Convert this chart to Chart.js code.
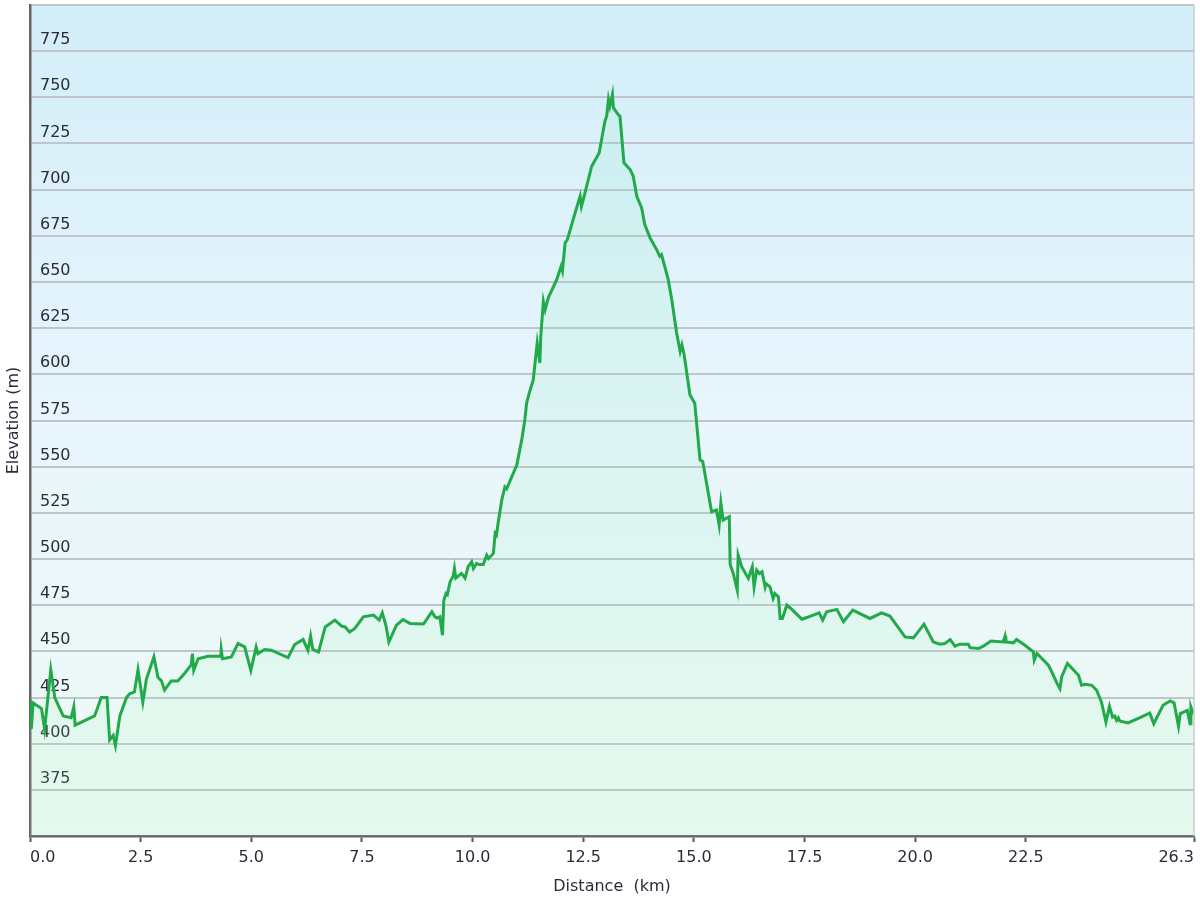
<!DOCTYPE html>
<html>
<head>
<meta charset="utf-8">
<title>Elevation profile</title>
<script src="https://cdn.jsdelivr.net/npm/chart.js@4/dist/chart.umd.min.js"></script>
<style>
  html, body { margin: 0; padding: 0; background: #fff; }
  #wrap { width: 1200px; height: 900px; position: relative; }
</style>
</head>
<body>
<div id="wrap"><canvas id="profile"></canvas></div>
<script>
// Elevation profile — distance (km) vs elevation (m)

const distanceKm = [
  0.00, 0.03, 0.07, 0.26, 0.33, 0.47, 0.56, 0.75, 0.93, 0.99, 1.02, 1.46, 1.61, 1.74, 1.80, 1.88, 1.93,
  2.03, 2.18, 2.25, 2.36, 2.44, 2.55, 2.63, 2.80, 2.89, 2.97, 3.04, 3.19, 3.34, 3.49, 3.64, 3.67, 3.70,
  3.80, 4.02, 4.31, 4.32, 4.35, 4.55, 4.70, 4.85, 4.99, 5.11, 5.15, 5.30, 5.45, 5.83, 5.98, 6.17, 6.28,
  6.34, 6.39, 6.52, 6.67, 6.89, 7.04, 7.12, 7.22, 7.34, 7.53, 7.76, 7.89, 7.96, 8.04, 8.11, 8.28, 8.43,
  8.59, 8.89, 9.08, 9.15, 9.20, 9.26, 9.32, 9.35, 9.40, 9.43, 9.49, 9.56, 9.59, 9.62, 9.75, 9.83, 9.90,
  9.98, 10.02, 10.09, 10.15, 10.24, 10.32, 10.36, 10.47, 10.51, 10.54, 10.58, 10.66, 10.73, 10.77, 11.00,
  11.11, 11.18, 11.22, 11.28, 11.37, 11.46, 11.52, 11.54, 11.60, 11.64, 11.71, 11.90, 12.00, 12.03, 12.09,
  12.14, 12.35, 12.43, 12.46, 12.52, 12.69, 12.86, 12.99, 13.03, 13.07, 13.10, 13.16, 13.18, 13.29, 13.33,
  13.42, 13.56, 13.63, 13.71, 13.82, 13.89, 14.01, 14.16, 14.23, 14.27, 14.42, 14.50, 14.61, 14.69, 14.73,
  14.78, 14.91, 15.02, 15.14, 15.20, 15.40, 15.51, 15.57, 15.61, 15.66, 15.80, 15.82, 15.89, 15.98, 16.00,
  16.08, 16.23, 16.32, 16.36, 16.42, 16.48, 16.54, 16.61, 16.63, 16.72, 16.79, 16.83, 16.91, 16.95, 17.00,
  17.10, 17.19, 17.44, 17.55, 17.83, 17.91, 18.00, 18.23, 18.38, 18.59, 18.98, 19.24, 19.43, 19.77, 19.96,
  20.20, 20.41, 20.56, 20.67, 20.79, 20.90, 21.01, 21.20, 21.24, 21.43, 21.54, 21.71, 21.99, 22.03, 22.05,
  22.22, 22.29, 22.48, 22.67, 22.69, 22.75, 23.01, 23.05, 23.20, 23.27, 23.31, 23.44, 23.69, 23.76, 23.84,
  23.99, 24.10, 24.21, 24.31, 24.39, 24.46, 24.51, 24.55, 24.59, 24.62, 24.81, 25.08, 25.30, 25.39, 25.60,
  25.76, 25.85, 25.95, 25.99, 26.15, 26.21, 26.23, 26.27, 26.30
];

const elevationM = [
  424, 408, 422, 419, 408, 440, 425, 415, 414, 420, 410, 415, 425, 425, 402, 404.5, 399,
  415, 425, 427, 428, 440, 422.5, 435, 447, 436, 434, 429, 434, 434, 438, 442.5, 448.8, 439.7,
  446, 447.3, 447.3, 451, 446, 447, 454.2, 452.4, 439.7, 452.4, 448.8, 451, 450.6, 446.6, 453.7, 456.4, 450.6,
  458.2, 451, 449.7, 463.2, 466.9, 463.6, 463.2, 460.5, 462.4, 468.7, 469.6, 466.9, 470.8, 464.2, 455.1, 464.2, 467.2,
  465.1, 464.8, 471.4, 468.7, 468, 468.7, 458.7, 477.7, 481.3, 480.7, 487.6, 490.7, 494.9, 489.6, 492.2, 489.6, 495.8,
  498.5, 494.9, 497.6, 497, 497, 502.1, 500.3, 503, 513.9, 513, 520, 532, 539, 538, 551,
  564.5, 575.3, 584.3, 589.8, 597, 616.9, 606.1, 620.5, 639.5, 635, 641.4, 651.3, 658.5, 656, 671.1,
  672.9, 690.1, 696.4, 691, 696.4, 712.7, 719.9, 737.1, 739.8, 748.9, 745.3, 751.6, 744.4, 740.7, 739.8,
  714.5, 710.9, 707.3, 696.4, 690.1, 681.1, 673.9, 667.5, 663.9, 664.8, 651.3, 640.5, 622.4, 612.4, 616,
  610.6, 588.9, 584.4, 553.6, 552.8, 525.6, 526.5, 518.4, 530.2, 521.1, 522.9, 497, 492.2, 483.1, 502.1,
  495.8, 489.5, 495.8, 484.9, 494, 492.2, 493.1, 484.9, 486.7, 484.9, 478.6, 481.3, 479.5, 467.8, 467.8,
  475, 473.2, 467.4, 468.3, 470.8, 466.9, 471.4, 472.7, 466, 472.3, 467.8, 470.8, 469.1, 457.8, 457.3,
  464.7, 455.1, 453.9, 454.2, 456.4, 452.8, 453.9, 453.9, 452, 451.5, 452.8, 455.6, 455.1, 458.2, 455.1,
  454.6, 456.4, 453.3, 449.7, 445.2, 448.8, 442.5, 440.7, 432.9, 429.8, 436.1, 443.4, 437, 431.6, 432.1,
  431.6, 428.9, 422.5, 411.7, 420.2, 414.4, 415, 412.6, 414, 412.3, 411.2, 414.1, 416.6, 410.8, 420.8,
  423.1, 422.1, 409.4, 416.3, 418, 410.8, 419.8, 417, 418
];

const xTickValues = [0, 2.5, 5, 7.5, 10, 12.5, 15, 17.5, 20, 22.5, 26.3];
const yMin = 350;
const yMax = 800;
const yStep = 25;

const textColor = '#2b2b3a';
const axisFont = { family: "'DejaVu Sans', Verdana, sans-serif", size: 16 };

// plot-area background + right border
const plotBackground = {
  id: 'plotBackground',
  beforeDraw(chart) {
    const { ctx, chartArea: a } = chart;
    if (!a) return;
    const g = ctx.createLinearGradient(0, a.top, 0, a.bottom);
    g.addColorStop(0, '#d3eef9');
    g.addColorStop(0.5, '#e8f5fc');
    g.addColorStop(1, '#effbf4');
    ctx.save();
    ctx.fillStyle = g;
    ctx.fillRect(a.left, a.top, a.right - a.left, a.bottom - a.top);
    ctx.restore();
  },
  afterDraw(chart) {
    const { ctx, chartArea: a } = chart;
    ctx.save();
    ctx.strokeStyle = '#c8cdd1';
    ctx.lineWidth = 1.5;
    ctx.beginPath();
    ctx.moveTo(a.right, a.top);
    ctx.lineTo(a.right, a.bottom);
    ctx.stroke();
    ctx.restore();
  }
};

function fillGradient(context) {
  const { chart } = context;
  const { ctx, chartArea } = chart;
  if (!chartArea) return 'rgba(140,235,180,0.12)';
  const g = ctx.createLinearGradient(0, chartArea.top, 0, chartArea.bottom);
  g.addColorStop(0, 'rgba(120,235,180,0.15)');
  g.addColorStop(1, 'rgba(150,240,185,0.12)');
  return g;
}

const points = distanceKm.map((d, i) => ({ x: d, y: elevationM[i] }));

new Chart(document.getElementById('profile'), {
  type: 'line',
  data: {
    datasets: [{
      label: 'Elevation',
      data: points,
      borderColor: '#22aa4a',
      borderWidth: 3,
      backgroundColor: fillGradient,
      fill: 'start',
      tension: 0,
      pointRadius: 0
    }]
  },
  options: {
    responsive: true,
    maintainAspectRatio: false,
    animation: false,
    layout: { padding: { top: 5, right: 6, bottom: 0, left: 0 } },
    plugins: { legend: { display: false }, tooltip: { enabled: false } },
    scales: {
      x: {
        type: 'linear',
        min: 0,
        max: 26.3,
        afterBuildTicks: scale => { scale.ticks = xTickValues.map(v => ({ value: v })); },
        afterFit: scale => { scale.height = 64; scale.paddingLeft = 0; scale.paddingRight = 0; },
        ticks: {
          autoSkip: false,
          align: 'inner',
          padding: 6,
          color: textColor,
          font: axisFont,
          callback: v => Number(v).toFixed(1)
        },
        grid: { drawOnChartArea: false, drawTicks: true, tickLength: 6, tickWidth: 2, tickColor: '#555' },
        border: { color: '#666', width: 2.5 },
        title: {
          display: true,
          text: 'Distance  (km)',
          color: textColor,
          font: axisFont,
          padding: { top: 11, bottom: 4 }
        }
      },
      y: {
        min: yMin,
        max: yMax,
        afterFit: scale => { scale.width = 30; scale.paddingTop = 0; scale.paddingBottom = 0; },
        ticks: {
          stepSize: yStep,
          mirror: true,
          padding: 10,
          labelOffset: -11,
          color: textColor,
          font: axisFont,
          callback: v => (v > yMin && v < yMax ? String(v) : '')
        },
        grid: { color: '#bfc5ca', lineWidth: 2, drawTicks: false },
        border: { color: '#666', width: 2.5 },
        title: {
          display: true,
          text: 'Elevation (m)',
          color: textColor,
          font: { family: axisFont.family, size: 16, lineHeight: 1 },
          padding: { top: 6, bottom: 0 }
        }
      }
    }
  },
  plugins: [plotBackground]
});
</script>
</body>
</html>
